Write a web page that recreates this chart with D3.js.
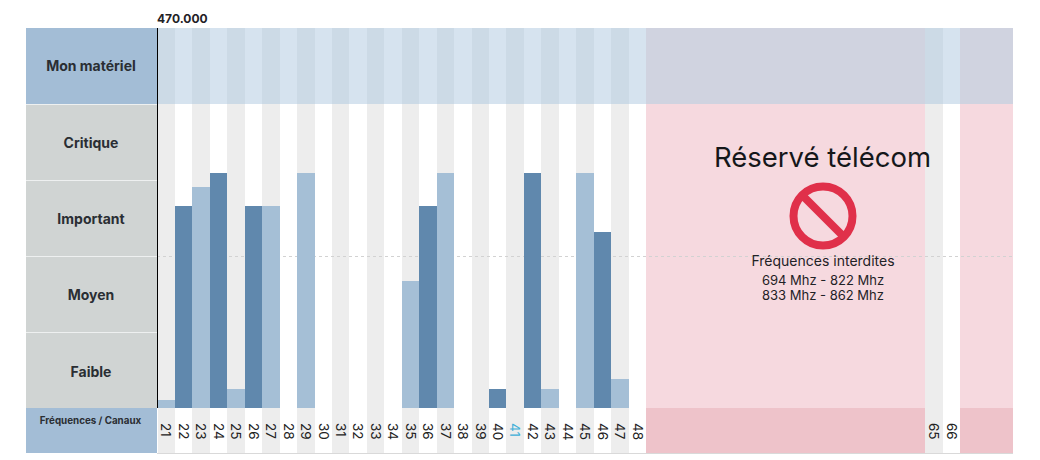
<!DOCTYPE html>
<html>
<head>
<meta charset="utf-8">
<script src="https://cdn.jsdelivr.net/npm/d3@7"></script>
<style>
  html, body { margin: 0; padding: 0; background: #fff; }
  svg { display: block; font-family: Inter, "Noto Sans", sans-serif; }
</style>
</head>
<body>
<div id="chart"></div>
<script>
const width = 1040;
const height = 460;

// channels 21 to 69, only some of them carry a label
const channels = [21,22,23,24,25,26,27,28,29,30,31,32,33,34,35,36,37,38,39,40,41,42,43,44,45,46,47,48,49,50,51,52,53,54,55,56,57,58,59,60,61,62,63,64,65,66,67,68,69];
const channelLabels = [21,22,23,24,25,26,27,28,29,30,31,32,33,34,35,36,37,38,39,40,41,42,43,44,45,46,47,48,65,66];
const reservedChannels = [49,50,51,52,53,54,55,56,57,58,59,60,61,62,63,64,67,68,69];
const levels = ["Critique", "Important", "Moyen", "Faible"];

// 0 = bottom of Faible, 4 = top of Critique
const barChannels = [21,22,23,24,25,26,27,29,35,36,37,40,42,43,45,46,47];
const barValues = [0.1,2.66,2.91,3.09,0.25,2.66,2.66,3.09,1.67,2.66,3.09,0.25,3.09,0.25,3.09,2.32,0.38];
const strongChannels = [22,24,26,36,40,42,46];

const noticeLines = ["Fréquences interdites", "694 Mhz - 822 Mhz", "833 Mhz - 862 Mhz"];

const left = 157, right = 1013;
const rowTop = 28, rowH = 76;
const plotTop = rowTop + rowH, plotBottom = plotTop + rowH * 4;
const stripBottom = 453;
const headLeft = 26;

const isOdd = d => d % 2 === 1;
const isReserved = d => reservedChannels.includes(d);

const x = d3.scaleBand().domain(channels).range([left + 0.5, right - 0.5]);
const y = d3.scaleLinear().domain([0, 4]).range([plotBottom, plotTop]);
const rows = d3.scaleBand().domain(levels).range([plotTop, plotBottom]);

const svg = d3.select("#chart").append("svg")
  .attr("width", width)
  .attr("height", height);

const crisp = svg.append("g").attr("shape-rendering", "crispEdges");

// column backgrounds
crisp.selectAll("rect.col")
  .data(channels)
  .enter()
  .append("rect")
  .attr("class", "col")
  .attr("x", d => x(d))
  .attr("y", plotTop)
  .attr("width", x.bandwidth())
  .attr("height", plotBottom - plotTop)
  .style("fill", d => isReserved(d) ? "#f6d9df" : (isOdd(d) ? "#ededed" : "#fff"));

// top band
crisp.selectAll("rect.top")
  .data(channels)
  .enter()
  .append("rect")
  .attr("class", "top")
  .attr("x", d => x(d))
  .attr("y", rowTop)
  .attr("width", x.bandwidth())
  .attr("height", rowH)
  .style("fill", d => isReserved(d) ? "#d0d3e0" : (isOdd(d) ? "#ccdae6" : "#d6e3ef"));

// bottom strip
crisp.selectAll("rect.bottom")
  .data(channels)
  .enter()
  .append("rect")
  .attr("class", "bottom")
  .attr("x", d => x(d))
  .attr("y", plotBottom)
  .attr("width", x.bandwidth())
  .attr("height", stripBottom - plotBottom)
  .style("fill", d => isReserved(d) ? "#eec3ca" : (isOdd(d) ? "#ededed" : "#fff"));

// middle dashed line, the bars hide it
svg.append("line")
  .attr("x1", left).attr("x2", right)
  .attr("y1", y(2) + 0.5).attr("y2", y(2) + 0.5)
  .style("stroke", "#d2d2d2")
  .style("stroke-dasharray", "3 3");

const barsG = svg.append("g").attr("shape-rendering", "crispEdges");

// bars
barsG.selectAll("rect.bar")
  .data(barChannels)
  .enter()
  .append("rect")
  .attr("class", "bar")
  .attr("x", d => x(d))
  .attr("y", (d, i) => y(barValues[i]))
  .attr("width", x.bandwidth())
  .attr("height", (d, i) => y(0) - y(barValues[i]))
  .style("fill", d => strongChannels.includes(d) ? "#6088ad" : "#a5bfd6");

// left headers
barsG.append("rect")
  .attr("x", headLeft).attr("y", rowTop)
  .attr("width", left - headLeft).attr("height", rowH)
  .style("fill", "#a3bdd6");
barsG.selectAll("rect.level")
  .data(levels)
  .enter()
  .append("rect")
  .attr("class", "level")
  .attr("x", headLeft)
  .attr("y", d => rows(d))
  .attr("width", left - headLeft)
  .attr("height", rows.bandwidth())
  .style("fill", "#d0d4d3");
barsG.append("rect")
  .attr("x", headLeft).attr("y", plotBottom)
  .attr("width", left - headLeft).attr("height", stripBottom - plotBottom)
  .style("fill", "#a3bdd6");

// white lines between the headers
barsG.selectAll("line.sep")
  .data(levels)
  .enter()
  .append("line")
  .attr("class", "sep")
  .attr("x1", headLeft).attr("x2", left)
  .attr("y1", d => rows(d)).attr("y2", d => rows(d))
  .style("stroke", "#eef0f0");

// bottom line of the strip
barsG.append("line")
  .attr("x1", left).attr("x2", right)
  .attr("y1", stripBottom).attr("y2", stripBottom)
  .style("stroke", "#d9d9d9");

// black axis line
barsG.append("line")
  .attr("x1", left + 0.5).attr("x2", left + 0.5)
  .attr("y1", rowTop).attr("y2", plotBottom)
  .style("stroke", "#000");

// header text
const headText = svg.append("g")
  .style("text-anchor", "middle")
  .style("font-weight", 700)
  .style("fill", "#2a2e33");
const headMid = (headLeft + left) / 2 - 0.5;
headText.append("text")
  .attr("x", headMid).attr("y", rowTop + rowH / 2 + 5)
  .style("font-size", "14px")
  .text("Mon matériel");
headText.selectAll("text.level")
  .data(levels)
  .enter()
  .append("text")
  .attr("class", "level")
  .attr("x", headMid)
  .attr("y", (d, i) => rows(d) + rows.bandwidth() / 2 + 5.5 + i * 0.35)
  .style("font-size", "14px")
  .text(d => d);
headText.append("text")
  .attr("x", headMid - 0.5).attr("y", 424)
  .style("font-size", "9.8px")
  .text("Fréquences / Canaux");

svg.append("text")
  .attr("x", 157).attr("y", 23)
  .style("font-size", "12px")
  .style("font-weight", 700)
  .style("fill", "#1f2226")
  .text("470.000");

// channel labels, turned a quarter
const axis = d3.axisBottom(x).tickValues(channelLabels).tickSize(0);
const axisG = svg.append("g")
  .attr("transform", `translate(0,${plotBottom})`)
  .call(axis);
axisG.select(".domain").remove();
axisG.selectAll("text")
  .attr("transform", "rotate(90)")
  .attr("x", 15)
  .attr("y", 0)
  .attr("dy", "0.35em")
  .style("text-anchor", "start")
  .style("font-family", "Inter, sans-serif")
  .style("font-size", "13.5px")
  .style("fill", d => d === 41 ? "#3fb0d8" : "#222");

// reserved notice
svg.append("text")
  .attr("x", 822.5).attr("y", 166.5)
  .style("text-anchor", "middle")
  .style("font-size", "27.5px")
  .style("fill", "#15171a")
  .text("Réservé télécom");

const sign = svg.append("g").attr("transform", "translate(823,216)");
sign.append("circle")
  .attr("r", 29.5)
  .style("fill", "none")
  .style("stroke", "#e0304a")
  .style("stroke-width", 8);
sign.append("line")
  .attr("x1", -21).attr("y1", -21)
  .attr("x2", 21).attr("y2", 21)
  .style("stroke", "#e0304a")
  .style("stroke-width", 8);

svg.selectAll("text.notice")
  .data(noticeLines)
  .enter()
  .append("text")
  .attr("class", "notice")
  .attr("x", 823)
  .attr("y", (d, i) => [266, 284.5, 299.5][i])
  .style("text-anchor", "middle")
  .style("font-size", (d, i) => i === 0 ? "14px" : "13px")
  .style("fill", "#1f2226")
  .text(d => d);
</script>
</body>
</html>
